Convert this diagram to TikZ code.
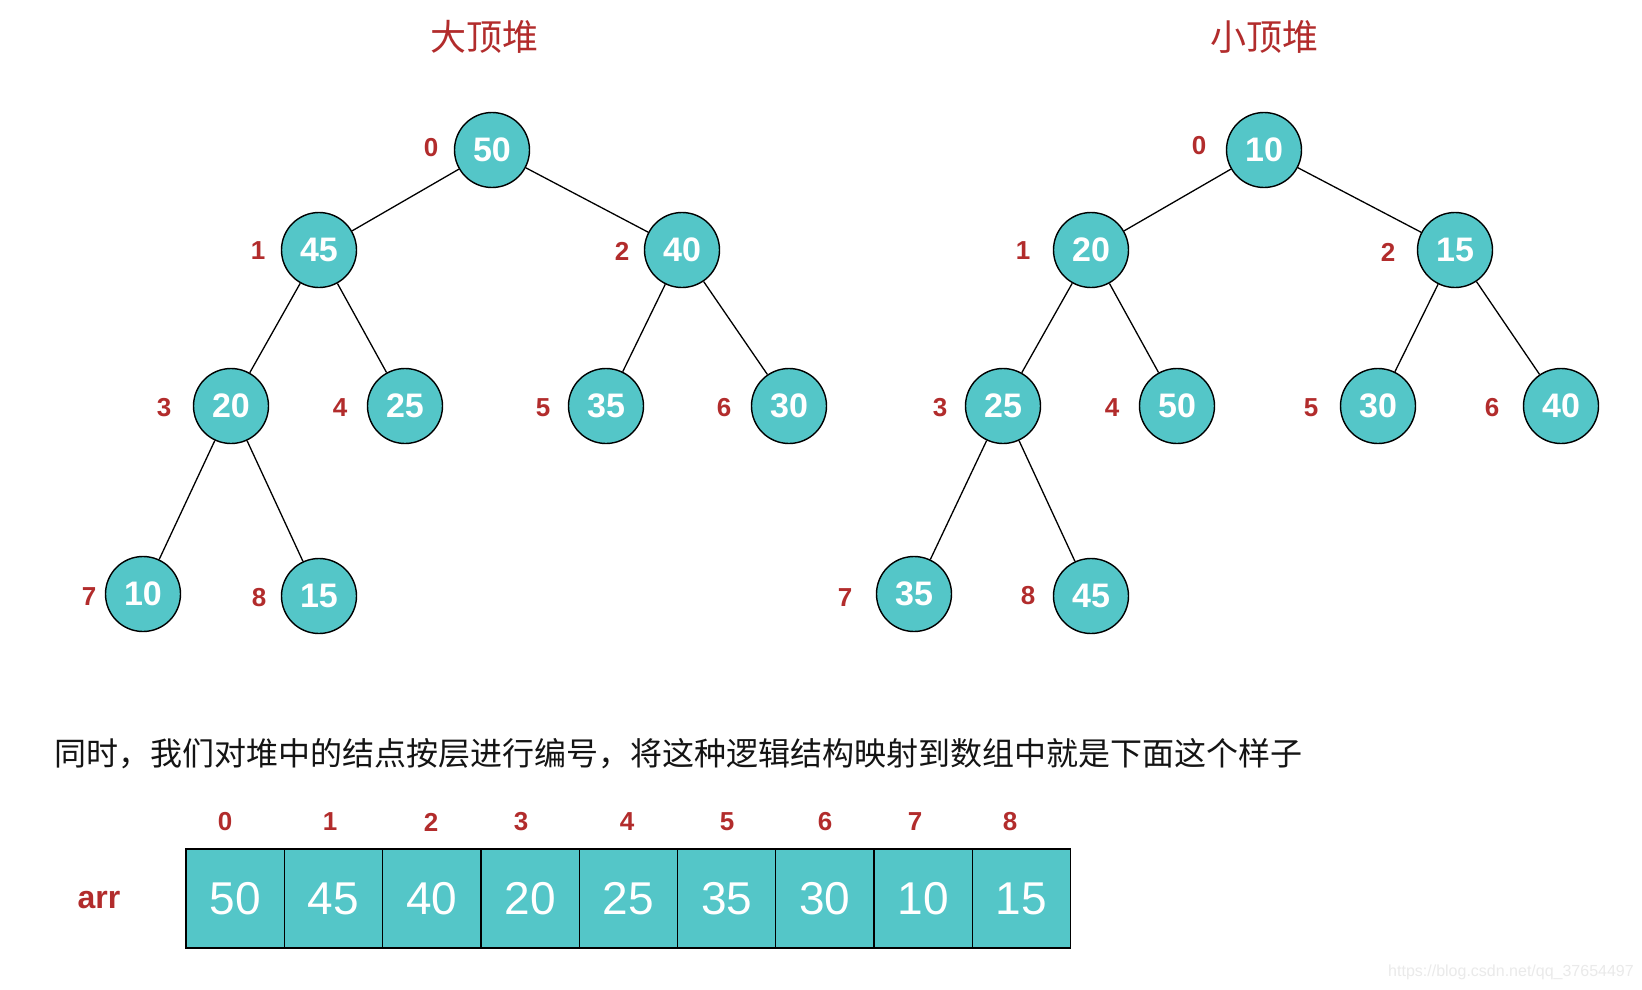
\documentclass[tikz,border=0pt]{standalone}
\usepackage{fontspec}
\setmainfont{Liberation Sans}
\newfontfamily\cjk{Noto Sans CJK SC}
\definecolor{tealfill}{HTML}{54C6C8}
\definecolor{labred}{HTML}{B22C2C}
\definecolor{wmgray}{HTML}{EAEAEA}
\begin{document}
\begin{tikzpicture}[x=1pt,y=-1pt,
  hn/.style={circle,draw=black,line width=1.4pt,fill=tealfill,minimum size=75pt,inner sep=0pt,text=white,font=\fontsize{34}{34}\selectfont\bfseries},
  idx/.style={text=labred,font=\fontsize{26}{26}\selectfont\bfseries,inner sep=0pt},
  edgeline/.style={draw=black,line width=1.3pt},
  cell/.style={draw=black,line width=1.3pt,fill=tealfill,minimum width=98.3pt,minimum height=99pt,inner sep=0pt,text=white,font=\fontsize{46}{46}\selectfont},
  ttl/.style={text=labred,font=\cjk\fontsize{36}{36}\selectfont,inner sep=0pt}]
\useasboundingbox (0,0) rectangle (1642,990);
\fill[white] (0,0) rectangle (1642,990);

% titles
\node[ttl] (t1) at (484,37) {大顶堆};
\node[ttl] (t2) at (1264,37) {小顶堆};

% left tree
\node[hn] (L0) at (492,150) {50};
\node[hn] (L1) at (319,250) {45};
\node[hn] (L2) at (682,250) {40};
\node[hn] (L3) at (231,406) {20};
\node[hn] (L4) at (405,406) {25};
\node[hn] (L5) at (606,406) {35};
\node[hn] (L6) at (789,406) {30};
\node[hn] (L7) at (143,594) {10};
\node[hn] (L8) at (319,596) {15};
\foreach \a/\b in {L0/L1,L0/L2,L1/L3,L1/L4,L2/L5,L2/L6,L3/L7,L3/L8}
  \draw[edgeline] (\a) -- (\b);

\node[idx] (li0) at (431,148) {0};
\node[idx] (li1) at (258,251) {1};
\node[idx] (li2) at (622,251) {2};
\node[idx] (li3) at (164,408) {3};
\node[idx] (li4) at (340,408) {4};
\node[idx] (li5) at (543,408) {5};
\node[idx] (li6) at (724,408) {6};
\node[idx] (li7) at (89,597) {7};
\node[idx] (li8) at (259,598) {8};

% right tree
\node[hn] (R0) at (1264,150) {10};
\node[hn] (R1) at (1091,250) {20};
\node[hn] (R2) at (1455,250) {15};
\node[hn] (R3) at (1003,406) {25};
\node[hn] (R4) at (1177,406) {50};
\node[hn] (R5) at (1378,406) {30};
\node[hn] (R6) at (1561,406) {40};
\node[hn] (R7) at (914,594) {35};
\node[hn] (R8) at (1091,596) {45};
\foreach \a/\b in {R0/R1,R0/R2,R1/R3,R1/R4,R2/R5,R2/R6,R3/R7,R3/R8}
  \draw[edgeline] (\a) -- (\b);

\node[idx] (ri0) at (1199,146) {0};
\node[idx] (ri1) at (1023,251) {1};
\node[idx] (ri2) at (1388,252) {2};
\node[idx] (ri3) at (940,408) {3};
\node[idx] (ri4) at (1112,408) {4};
\node[idx] (ri5) at (1311,408) {5};
\node[idx] (ri6) at (1492,408) {6};
\node[idx] (ri7) at (845,598) {7};
\node[idx] (ri8) at (1028,596) {8};

% paragraph
\node[anchor=west,inner sep=0pt,text=black!92,font=\cjk\fontsize{32}{32}\selectfont] (para) at (54,754)
  {同时，我们对堆中的结点按层进行编号，将这种逻辑结构映射到数组中就是下面这个样子};

% array
\node[text=labred,font=\fontsize{32}{32}\selectfont\bfseries,inner sep=0pt] (arr) at (99,900) {arr};
\foreach \v [count=\i from 0] in {50,45,40,20,25,35,30,10,15}
  \node[cell] (c\i) at ({235.15+98.3*\i},898.5) {\v};
\foreach \x [count=\i from 0] in {225,330,431,521,627,727,825,915,1010}
  \node[idx] (ai\i) at (\x,822) {\i};

% watermark
\node[text=wmgray,font=\fontsize{16}{16}\selectfont,inner sep=0pt] (wm) at (1511,972) {https://blog.csdn.net/qq\_37654497};
\end{tikzpicture}
\end{document}
